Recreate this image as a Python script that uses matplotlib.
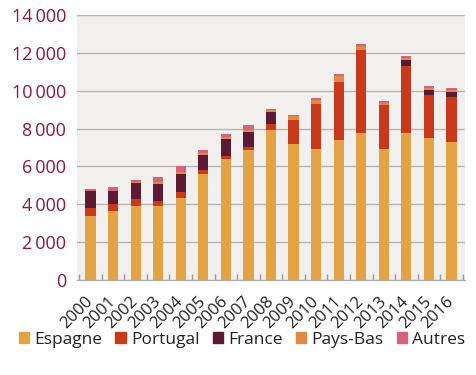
import matplotlib
matplotlib.use("Agg")
import matplotlib.pyplot as plt
import numpy as np
from matplotlib.patches import Patch

years = [str(y) for y in range(2000, 2017)]
espagne  = [3380, 3640, 3900, 3900, 4350, 5620, 6410, 6850, 7910, 7210, 6940, 7380, 7740, 6940, 7740, 7490, 7280]
portugal = [440, 355, 355, 300, 280, 175, 160, 160, 355, 1230, 2360, 3070, 4410, 2290, 3560, 2290, 2400]
france   = [880, 700, 880, 865, 950, 830, 880, 795, 600, 20, 0, 0, 0, 0, 335, 265, 265]
paysbas  = [20, 30, 30, 90, 105, 85, 105, 105, 120, 210, 195, 335, 225, 120, 105, 105, 105]
autres   = [70, 170, 140, 265, 355, 145, 180, 265, 75, 70, 105, 90, 90, 90, 90, 75, 90]

series = [("Espagne", espagne, "#e3a243"),
          ("Portugal", portugal, "#c93a1c"),
          ("France", france, "#5d1a35"),
          ("Pays-Bas", paysbas, "#de8a45"),
          ("Autres", autres, "#d8617f")]

plt.rcParams['font.family'] = ['Open Sans', 'DejaVu Sans']

fig = plt.figure(figsize=(4.76, 3.75), dpi=100)
ax = fig.add_axes([77/476, 1-280/375, (465-77)/476, (280-15)/375])
ax.set_facecolor("#f2f0ef")

x = np.arange(len(years))
bottom = np.zeros(len(years))
for name, vals, col in series:
    v = np.array(vals, dtype=float)
    ax.bar(x, v, width=0.45, bottom=bottom, color=col, label=name, zorder=3)
    bottom += v

ax.set_ylim(0, 14000)
ax.set_xlim(-0.6, len(years) - 0.4)
yt = np.arange(0, 14001, 2000)
ax.set_yticks(yt)
ax.set_yticklabels([f"{v:,}".replace(",", "\u2009") if v >= 1000 else "0" for v in yt],
                   color="#8c1a3c", fontsize=13)
ax.tick_params(axis='y', length=0, pad=8)
ax.yaxis.grid(True, color="#b5b3b3", linewidth=1, zorder=1)

ax.set_xticks(x)
ax.set_xticklabels(years, rotation=45, ha='right', va='center', rotation_mode='anchor',
                   fontsize=12, color="#222222")
ax.tick_params(axis='x', length=0, pad=14)
ax.set_xticks(np.arange(-0.5, len(years), 1.0), minor=True)
ax.tick_params(axis='x', which='minor', direction='in', length=4, color="#999999", width=1)

for s in ['top', 'right', 'left']:
    ax.spines[s].set_visible(False)
ax.spines['bottom'].set_color("#aaaaaa")
ax.spines['bottom'].set_zorder(4)

handles = [Patch(color=c, label=n) for n, _, c in series]
fig.legend(handles=handles, loc='center', bbox_to_anchor=(242/476, 1-340/375), ncol=5,
           frameon=False, fontsize=12.5, handlelength=0.6, handleheight=0.6,
           handletextpad=0.3, columnspacing=0.75, labelcolor="#222222", borderaxespad=0)

fig.savefig("out.png", dpi=100, facecolor="white")
